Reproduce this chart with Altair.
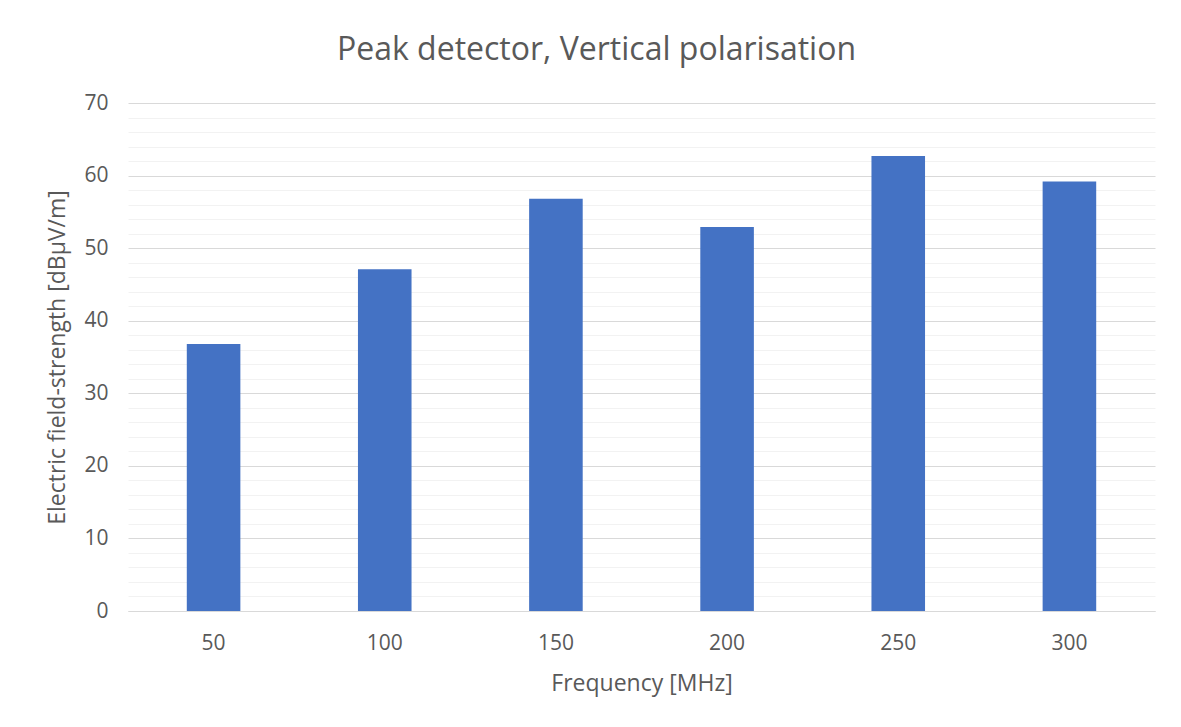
import altair as alt
import pandas as pd

categories = ["50", "100", "150", "200", "250", "300"]
values = [36.8, 47.1, 56.8, 52.9, 62.7, 59.2]
y_ticks = list(range(0, 72, 2))

df = pd.DataFrame({"freq": categories, "field": values})

FONT = "Open Sans"
GREY = "#595959"

chart = alt.Chart(df).mark_bar(color="#4472C4").encode(
    x=alt.X("freq:N", sort=categories,
            scale=alt.Scale(paddingInner=0.687, paddingOuter=0.3435),
            axis=alt.Axis(title="Frequency [MHz]", labelAngle=0, ticks=False,
                          domainColor="#d9d9d9", domainWidth=1,
                          labelPadding=21, titlePadding=19,
                          labelFontSize=21, titleFontSize=23,
                          labelColor=GREY, titleColor=GREY,
                          labelFont=FONT, titleFont=FONT, titleFontWeight="normal")),
    y=alt.Y("field:Q",
            scale=alt.Scale(domain=[0, 70], nice=False),
            axis=alt.Axis(title="Electric field-strength [dBµV/m]",
                          values=y_ticks, domain=False, ticks=False,
                          labelExpr="datum.value % 10 === 0 ? datum.label : ''",
                          gridColor={"condition": {"test": "datum.value % 10 === 0", "value": "#d9d9d9"},
                                     "value": "#f2f2f2"},
                          gridWidth=1,
                          labelPadding=20, titlePadding=14,
                          labelFontSize=21, titleFontSize=23,
                          labelColor=GREY, titleColor=GREY,
                          labelFont=FONT, titleFont=FONT, titleFontWeight="normal")),
).properties(
    width=1027,
    height=508,
    title=alt.TitleParams("Peak detector, Vertical polarisation", font=FONT, fontSize=32,
                          fontWeight="normal", color=GREY, anchor="middle", dx=-45, offset=25),
    autosize=alt.AutoSizeParams(type="none"),
    padding={"left": 120, "top": 95, "right": 18, "bottom": 100},
    background="white",
).configure_view(stroke=None)

chart.save("out.html", embed_options={"renderer": "svg", "actions": False})
